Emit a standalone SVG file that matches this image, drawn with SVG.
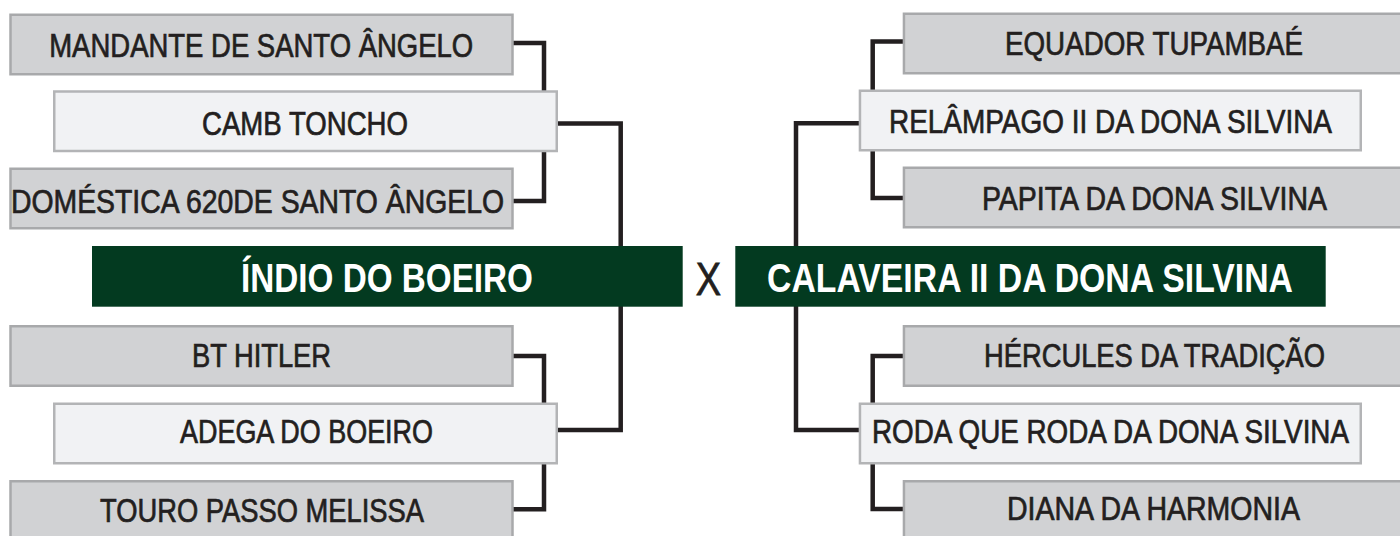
<svg xmlns="http://www.w3.org/2000/svg" width="1400" height="536" viewBox="0 0 1400 536">
<style>
.g{fill:#d1d2d4;stroke:#a8a9ab;stroke-width:2.5}
.w{fill:#f1f2f4;stroke:#b3b4b6;stroke-width:2.5}
.hd{fill:#033a20}
.t{font-family:"Liberation Sans",Arial,sans-serif;font-size:33px;fill:#231f20;stroke:#231f20;stroke-width:0.7;text-anchor:middle}
.tb{font-family:"Liberation Sans",Arial,sans-serif;font-size:40px;font-weight:bold;fill:#ffffff;text-anchor:middle}
.c{fill:none;stroke:#231f20;stroke-width:4.5;stroke-linejoin:miter}
</style>
<rect width="1400" height="536" fill="#ffffff"/>
<g id="connectors">
<path class="c" d="M505,43 H544 V201 H505"/>
<path class="c" d="M550,123.5 H620.7 V430 H550"/>
<path class="c" d="M505,356 H544 V509.3 H505"/>
<path class="c" d="M910,41.5 H872.7 V198 H910"/>
<path class="c" d="M866,123.3 H796 V430 H866"/>
<path class="c" d="M910,356 H872.7 V509 H910"/>
</g>
<g id="mandante"><rect class="g" x="10.5" y="14.75" width="502" height="59.5"/><text class="t" transform="translate(261.2,57) scale(0.83,1)" textLength="510.8" lengthAdjust="spacingAndGlyphs">MANDANTE DE SANTO ÂNGELO</text></g>
<g id="camb"><rect class="w" x="54.25" y="91.5" width="502.5" height="59.5"/><text class="t" transform="translate(305,135) scale(0.83,1)" textLength="248.2" lengthAdjust="spacingAndGlyphs">CAMB TONCHO</text></g>
<g id="domestica"><rect class="g" x="10.5" y="168.75" width="502" height="59.5"/><text class="t" transform="translate(257.5,213) scale(0.83,1)" textLength="594" lengthAdjust="spacingAndGlyphs">DOMÉSTICA 620DE SANTO ÂNGELO</text></g>
<g id="indio"><rect class="hd" x="92" y="246" width="590.7" height="60.7"/><text class="tb" transform="translate(387,291.7) scale(0.83,1)" textLength="351.8" lengthAdjust="spacingAndGlyphs">ÍNDIO DO BOEIRO</text></g>
<g id="bthitler"><rect class="g" x="10.5" y="326.25" width="502" height="59.5"/><text class="t" transform="translate(261.5,366.7) scale(0.83,1)" textLength="167.5" lengthAdjust="spacingAndGlyphs">BT HITLER</text></g>
<g id="adega"><rect class="w" x="54.25" y="403.75" width="502.5" height="59.5"/><text class="t" transform="translate(306.5,443) scale(0.83,1)" textLength="304.8" lengthAdjust="spacingAndGlyphs">ADEGA DO BOEIRO</text></g>
<g id="touro"><rect class="g" x="10.5" y="481.25" width="502" height="59.5"/><text class="t" transform="translate(262,521.5) scale(0.83,1)" textLength="390.4" lengthAdjust="spacingAndGlyphs">TOURO PASSO MELISSA</text></g>
<g id="versus"><text transform="translate(708.5,295) scale(0.83,1)" font-family="'Liberation Sans',Arial,sans-serif" font-size="46" fill="#231f20" stroke="#231f20" stroke-width="0.8" text-anchor="middle" textLength="30.5" lengthAdjust="spacingAndGlyphs">X</text></g>
<g id="equador"><rect class="g" x="903.95" y="13.75" width="502" height="59.5"/><text class="t" transform="translate(1154,55) scale(0.83,1)" textLength="359" lengthAdjust="spacingAndGlyphs">EQUADOR TUPAMBAÉ</text></g>
<g id="relampago"><rect class="w" x="859.95" y="90.75" width="500.8" height="59.5"/><text class="t" transform="translate(1110.5,133) scale(0.83,1)" textLength="533.7" lengthAdjust="spacingAndGlyphs">RELÂMPAGO II DA DONA SILVINA</text></g>
<g id="papita"><rect class="g" x="903.95" y="167.75" width="502" height="59.5"/><text class="t" transform="translate(1154.5,210) scale(0.83,1)" textLength="415.7" lengthAdjust="spacingAndGlyphs">PAPITA DA DONA SILVINA</text></g>
<g id="calaveira"><rect class="hd" x="735.3" y="246" width="590.4" height="60.7"/><text class="tb" transform="translate(1030,291.7) scale(0.83,1)" textLength="633.7" lengthAdjust="spacingAndGlyphs">CALAVEIRA II DA DONA SILVINA</text></g>
<g id="hercules"><rect class="g" x="903.95" y="326.25" width="502" height="59.5"/><text class="t" transform="translate(1154.5,366.7) scale(0.83,1)" textLength="410.8" lengthAdjust="spacingAndGlyphs">HÉRCULES DA TRADIÇÃO</text></g>
<g id="roda"><rect class="w" x="859.95" y="403.75" width="500.8" height="59.5"/><text class="t" transform="translate(1110.5,443) scale(0.83,1)" textLength="574.7" lengthAdjust="spacingAndGlyphs">RODA QUE RODA DA DONA SILVINA</text></g>
<g id="diana"><rect class="g" x="903.95" y="481.25" width="502" height="59.5"/><text class="t" transform="translate(1153.5,520) scale(0.83,1)" textLength="353" lengthAdjust="spacingAndGlyphs">DIANA DA HARMONIA</text></g>
</svg>
